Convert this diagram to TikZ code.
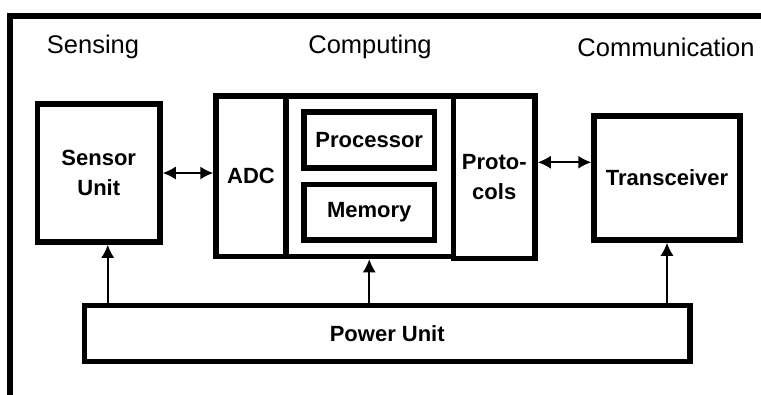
\documentclass[tikz,border=0pt]{standalone}
\usepackage{fontspec}
\setmainfont{Liberation Sans}
\usetikzlibrary{arrows.meta}

\begin{document}
\begin{tikzpicture}[x=1pt, y=1pt,
  blockbox/.style={draw, line width=5.5pt, inner sep=0pt, align=center,
    font=\fontsize{22}{30}\selectfont\bfseries},
  link/.style={line width=1.6pt,
    {Latex[length=13pt,width=13pt]}-{Latex[length=13pt,width=13pt]}},
  feed/.style={line width=1.6pt, -{Latex[length=13pt,width=13pt]}},
  heading/.style={font=\fontsize{25.5}{30}\selectfont}]
  \useasboundingbox (0,0) rectangle (761,-394);
  \clip (0,0) rectangle (761,-394);
  % Outer frame
  \draw[line width=5.5pt] (10,-400) -- (10,-16) -- (770,-16);
  % Headings
  \node[heading] (hsense) at (93,-47) {Sensing};
  \node[heading] (hcomp) at (370,-47) {Computing};
  \node[heading] (hcomm) at (666,-47) {Communication};
  % Sensing
  \node[blockbox, minimum width=122.5pt, minimum height=138pt] (sensor)
    at (98.75,-173) {Sensor\\Unit};
  % Computing
  \node[blockbox, minimum width=70pt, minimum height=160.5pt] (adc)
    at (251,-176.25) {ADC};
  \node[blockbox, minimum width=167.5pt, minimum height=160.5pt] (core)
    at (369.75,-176.25) {};
  \node[blockbox, minimum width=130.5pt, minimum height=56pt] (proc)
    at (369.25,-140) {Processor};
  \node[blockbox, minimum width=130.5pt, minimum height=55.5pt] (mem)
    at (369.25,-212.25) {Memory};
  \node[blockbox, minimum width=81.5pt, minimum height=162.5pt] (proto)
    at (494.25,-177.25) {Proto-\\cols};
  % Communication
  \node[blockbox, minimum width=146pt, minimum height=124pt] (trans)
    at (667,-178) {Transceiver};
  % Power
  \node[blockbox, minimum width=605.5pt, minimum height=56pt] (power)
    at (387.25,-333.5) {Power Unit};
  % Links
  \draw[link] (sensor.east) -- (sensor.east -| adc.west);
  \draw[link] ([yshift=15pt]proto.east) -- ([yshift=15pt]proto.east -| trans.west);
  % Power feeds
  \draw[feed] ([xshift=9pt]sensor.south |- power.north) -- ([xshift=9pt]sensor.south);
  \draw[feed] (mem.south |- power.north) -- (mem.south |- core.south);
  \draw[feed] (trans.south |- power.north) -- (trans.south);
\end{tikzpicture}
\end{document}
